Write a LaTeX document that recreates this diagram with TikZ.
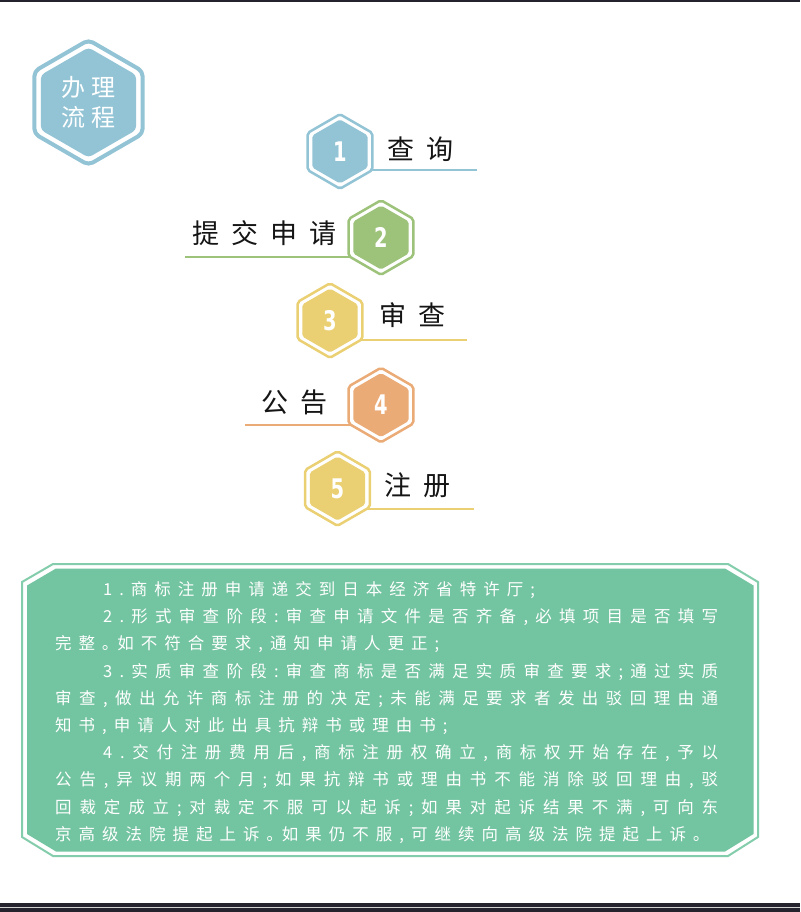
\documentclass[tikz,border=0pt]{standalone}
\usepackage{graphicx}
\usepackage{fontspec}
\usetikzlibrary{shapes.geometric}
\newfontfamily\cjk{Noto Sans CJK SC}
\newfontfamily\numf{DejaVu Sans}
\definecolor{topdark}{HTML}{24232E}
\definecolor{cblue}{HTML}{93C4D5}
\definecolor{cgreen}{HTML}{9DC27A}
\definecolor{cyellow}{HTML}{EAD073}
\definecolor{corange}{HTML}{EBAB77}
\definecolor{panelfill}{HTML}{73C4A1}
\definecolor{panelline}{HTML}{84CDAC}
\definecolor{stepink}{HTML}{151515}
\makeatletter
\newcommand\spcd[2]{\def\spcd@g{#1}\spcd@a#2\relax}
\def\spcd@a#1{#1\spcd@b}
\def\spcd@b#1{\ifx\relax#1\else\spcd@g#1\expandafter\spcd@b\fi}
\makeatother
\newcommand\numtxt[1]{\scalebox{0.72}[1]{\numf\bfseries\fontsize{27}{27}\selectfont #1}}
\newcommand\pgapfix{\hskip 7pt\relax}
\newcommand\pgapfl{\hskip 7pt plus 1fil minus 3pt\relax}
\newcommand\sgap{\hskip 12pt\relax}
\tikzset{
  hexout/.style={regular polygon, regular polygon sides=6, shape border rotate=30,
    inner sep=0pt, outer sep=0pt, minimum size=74.5pt, draw=#1, line width=2.5pt,
    fill=white, rounded corners=2pt},
  hexin/.style={regular polygon, regular polygon sides=6, shape border rotate=30,
    inner sep=0pt, outer sep=0pt, minimum size=64pt, fill=#1, rounded corners=2pt,
    text=white},
  badgeout/.style={regular polygon, regular polygon sides=6, shape border rotate=30,
    inner sep=0pt, outer sep=0pt, minimum size=125pt, draw=#1, line width=4pt,
    fill=white, rounded corners=5pt},
  badgein/.style={regular polygon, regular polygon sides=6, shape border rotate=30,
    inner sep=0pt, outer sep=0pt, minimum size=110pt, fill=#1, rounded corners=4pt,
    text=white, align=center, font={\cjk\fontsize{24}{30}\selectfont}},
  steplabel/.style={anchor=west, inner sep=0pt, text=stepink,
    font={\cjk\fontsize{27}{27}\selectfont}},
  uline/.style={line width=2pt, draw=#1},
  ptxt/.style={anchor=west, inner sep=0pt, text=white,
    font={\cjk\fontsize{16.5}{16.5}\selectfont}}
}
\begin{document}
\begin{tikzpicture}[x=1pt,y=-1pt]
\useasboundingbox (0,0) rectangle (800,912);
\fill[white] (0,0) rectangle (800,912);
% top and bottom bars
\fill[topdark] (0,0) rectangle (800,2.2);
\fill[topdark] (0,903) rectangle (800,912);
\fill[gray!35] (0,907) rectangle (800,908.2);

% badge
\node[badgeout=cblue] (bo) at (88.5,102.5) {};
\node[badgein=cblue] (bi) at (88.5,102.5) {\spcd{\hskip 6pt\relax}{办理}\\\spcd{\hskip 6pt\relax}{流程}};

% underlines
\coordinate (u1a) at (340,170.5); \coordinate (u1b) at (477,170.5);
\coordinate (u2a) at (185,256.5); \coordinate (u2b) at (381,256.5);
\coordinate (u3a) at (330,339.5); \coordinate (u3b) at (467,339.5);
\coordinate (u4a) at (245,425); \coordinate (u4b) at (381,425);
\coordinate (u5a) at (337.5,509); \coordinate (u5b) at (474,509);
\draw[uline=cblue] (u1a) -- (u1b);
\draw[uline=cgreen] (u2a) -- (u2b);
\draw[uline=cyellow] (u3a) -- (u3b);
\draw[uline=corange] (u4a) -- (u4b);
\draw[uline=cyellow] (u5a) -- (u5b);

% step hexagons
\node[hexout=cblue] (h1o) at (340,151.5) {};
\node[hexin=cblue] (h1) at (340,151.5) {\numtxt{1}};
\node[hexout=cgreen] (h2o) at (381,237.5) {};
\node[hexin=cgreen] (h2) at (381,237.5) {\numtxt{2}};
\node[hexout=cyellow] (h3o) at (330,320.5) {};
\node[hexin=cyellow] (h3) at (330,320.5) {\numtxt{3}};
\node[hexout=corange] (h4o) at (381,405) {};
\node[hexin=corange] (h4) at (381,405) {\numtxt{4}};
\node[hexout=cyellow] (h5o) at (337.5,488.5) {};
\node[hexin=cyellow] (h5) at (337.5,488.5) {\numtxt{5}};

% step labels
\node[steplabel] (t1) at (387,149) {\spcd{\sgap}{查询}};
\node[steplabel] (t2) at (192,233) {\spcd{\sgap}{提交申请}};
\node[steplabel] (t3) at (379,315) {\spcd{\sgap}{审查}};
\node[steplabel] (t4) at (261,402) {\spcd{\sgap}{公告}};
\node[steplabel] (t5) at (384,485) {\spcd{\sgap}{注册}};

% panel
\draw[panelline, line width=2pt] (53,564) -- (728,564) -- (758,582) -- (758,837) -- (728,856) -- (53,856) -- (22,837) -- (22,582) -- cycle;
\fill[panelfill] (56,568.5) -- (725,568.5) -- (753.5,585.5) -- (753.5,834) -- (725,851.5) -- (56,851.5) -- (27,834) -- (27,585.5) -- cycle;

\node[ptxt] (p1) at (103,590) {\spcd{\pgapfix}{1.商标注册申请递交到日本经济省特许厅;}};
\node[ptxt] (p2) at (103,617.2) {\makebox[615pt][s]{\spcd{\pgapfl}{2.形式审查阶段:审查申请文件是否齐备,必填项目是否填写}}};
\node[ptxt] (p3) at (55,644.4) {\spcd{\pgapfix}{完整｡如不符合要求,通知申请人更正;}};
\node[ptxt] (p4) at (103,671.6) {\makebox[615pt][s]{\spcd{\pgapfl}{3.实质审查阶段:审查商标是否满足实质审查要求;通过实质}}};
\node[ptxt] (p5) at (55,698.8) {\makebox[663pt][s]{\spcd{\pgapfl}{审查,做出允许商标注册的决定;未能满足要求者发出驳回理由通}}};
\node[ptxt] (p6) at (55,726) {\spcd{\pgapfix}{知书,申请人对此出具抗辩书或理由书;}};
\node[ptxt] (p7) at (103,753.2) {\makebox[615pt][s]{\spcd{\pgapfl}{4.交付注册费用后,商标注册权确立,商标权开始存在,予以}}};
\node[ptxt] (p8) at (55,780.4) {\makebox[663pt][s]{\spcd{\pgapfl}{公告,异议期两个月;如果抗辩书或理由书不能消除驳回理由,驳}}};
\node[ptxt] (p9) at (55,807.6) {\makebox[663pt][s]{\spcd{\pgapfl}{回裁定成立;对裁定不服可以起诉;如果对起诉结果不满,可向东}}};
\node[ptxt] (p10) at (55,834.8) {\spcd{\pgapfix}{京高级法院提起上诉｡如果仍不服,可继续向高级法院提起上诉｡}};
\end{tikzpicture}
\end{document}
